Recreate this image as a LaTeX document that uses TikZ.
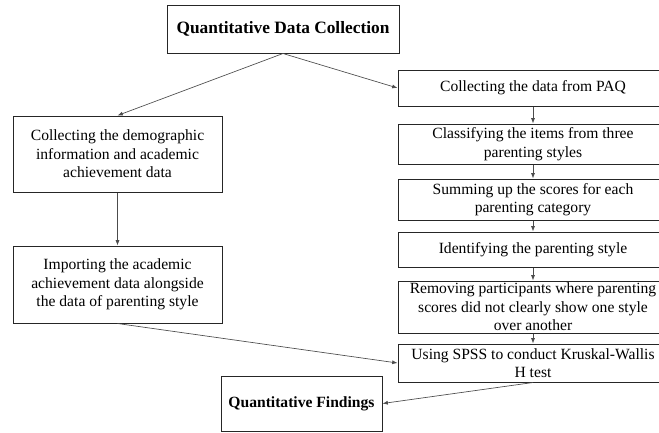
\documentclass[tikz,border=0pt]{standalone}
\usepackage{fontspec}
\setmainfont{Liberation Serif}
\usetikzlibrary{arrows.meta}
\begin{document}
\begin{tikzpicture}[x=0.75pt,y=-0.75pt,
  box/.style={draw=black!85,line width=0.75pt,inner sep=0pt,align=center,
    font=\fontsize{11.7}{13.9}\selectfont},
  rbox/.style={box,minimum width=202.5pt},
  lbox/.style={box,minimum width=156.75pt},
  conn/.style={draw=black!70,line width=0.5pt,-{Latex[length=4pt,width=3pt]}}]
\useasboundingbox (0,0) rectangle (659,432);
\clip (0,0) rectangle (659,432);
\node[box,minimum width=174pt,minimum height=36pt,font=\fontsize{13}{15.5}\selectfont\bfseries] (top) at (283,29) {Quantitative Data Collection};
\node[rbox,minimum height=27pt] (r1) at (533,88) {Collecting the data from PAQ};
\node[rbox,minimum height=30pt] (r2) at (533,144) {Classifying the items from three\\parenting styles};
\node[rbox,minimum height=30.75pt] (r3) at (533,199.5) {Summing up the scores for each\\parenting category};
\node[rbox,minimum height=26.25pt] (r4) at (533,249.5) {Identifying the parenting style};
\node[rbox,minimum height=39pt] (r5) at (533,307) {Removing participants where parenting\\scores did not clearly show one style\\over another};
\node[rbox,minimum height=28.5pt] (r6) at (533,363) {Using SPSS to conduct Kruskal-Wallis\\H test};
\node[lbox,minimum height=57pt] (l1) at (117.5,154) {Collecting the demographic\\information and academic\\achievement data};
\node[lbox,minimum height=57.75pt] (l2) at (117.5,284.5) {Importing the academic\\achievement data alongside\\the data of parenting style};
\node[box,minimum width=120.75pt,minimum height=41.25pt,font=\fontsize{11.7}{13.9}\selectfont\bfseries] (fin) at (301.5,403.5) {Quantitative Findings};
\draw[conn] (top.south) -- (l1.north);
\draw[conn] (top.south) -- (r1.west);
\draw[conn] (r1) -- (r2);
\draw[conn] (r2) -- (r3);
\draw[conn] (r3) -- (r4);
\draw[conn] (r4) -- (r5);
\draw[conn] (r5) -- (r6);
\draw[conn] (l1) -- (l2);
\draw[conn] (l2.south) -- (r6.west);
\draw[conn] (r6.south) -- (fin.east);
\end{tikzpicture}
\end{document}
